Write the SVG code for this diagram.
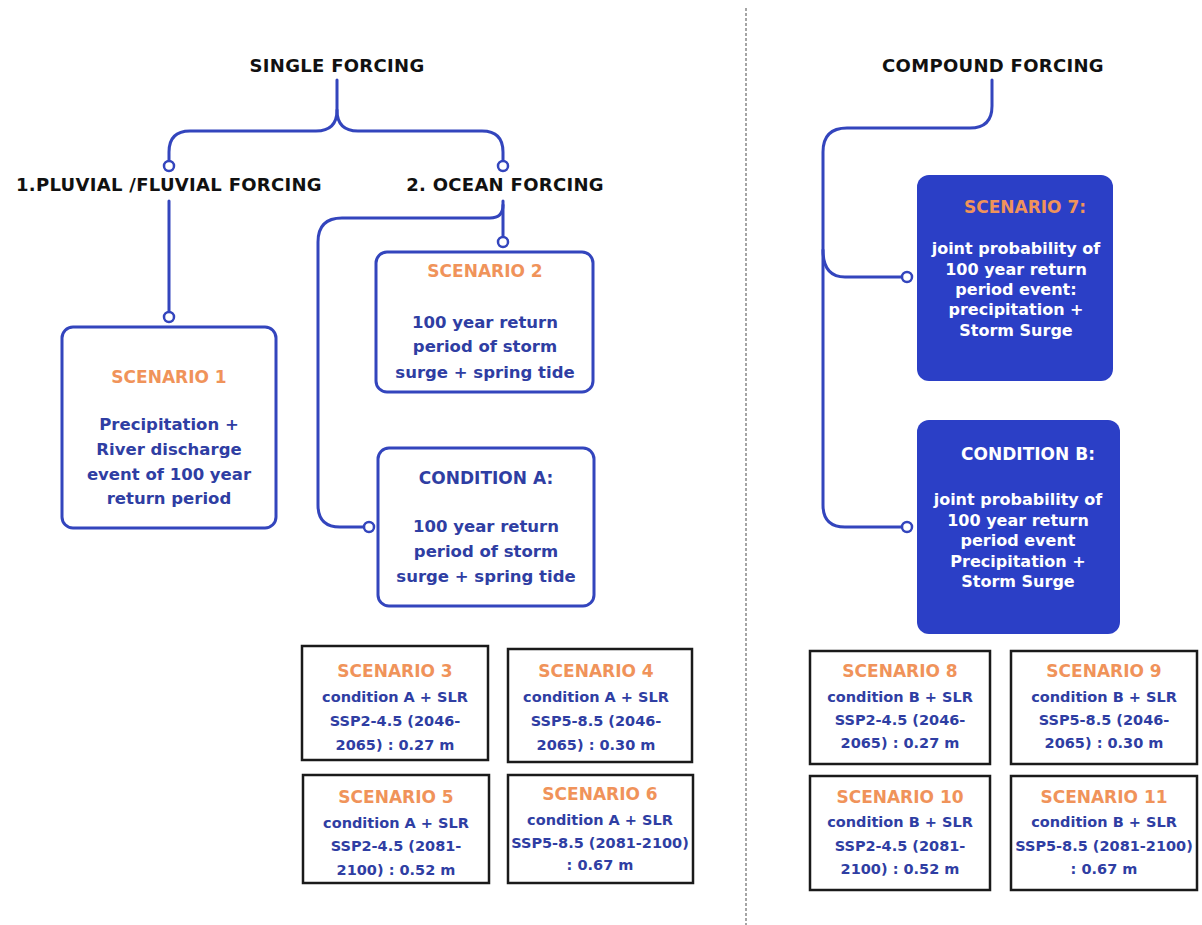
<svg xmlns="http://www.w3.org/2000/svg" width="1202" height="925" viewBox="0 0 1202 925">
<style>
text{font-family:"DejaVu Sans",Inter,sans-serif;font-weight:700;text-anchor:middle}
.hdr{font-size:18px;fill:#111;letter-spacing:0.3px}
.ttl{font-size:17px;fill:#f0935a}
.ttlb{font-size:17px;fill:#2f3ea3}
.ttlw{font-size:17px;fill:#ffffff}
.bd{font-size:16.5px;fill:#2f3ea3}
.bw{font-size:16px;fill:#ffffff}
.sm{font-size:14.5px;fill:#2f3ea3}
.box{fill:#fff;stroke:#3345bd;stroke-width:3}
.fbox{fill:#2b3fc6;stroke:none}
.kbox{fill:#fff;stroke:#1a1a1a;stroke-width:2.5}
.ln{fill:none;stroke:#3345bd;stroke-width:3;stroke-linecap:round;stroke-linejoin:round}
.dot{fill:#fff;stroke:#3345bd;stroke-width:2.5}
</style>
<rect width="1202" height="925" fill="#fff"/>
<line x1="746" y1="8" x2="746" y2="925" stroke="#888" stroke-width="1.5" stroke-dasharray="3 2"/>

<g id="connectors">
  <path class="ln" d="M337 80 V110 Q337 131 316 131 H190 Q169 131 169 152 V161"/>
  <path class="ln" d="M337 110 Q337 131 358 131 H482 Q503 131 503 152 V161"/>
  <path class="ln" d="M169 201 V312"/>
  <path class="ln" d="M503 201 V237"/>
  <path class="ln" d="M503 205 Q503 218 490 218 H342 Q318 218 318 242 V505 Q318 527 340 527 H364"/>
  <path class="ln" d="M992 80 V106 Q992 128 970 128 H847 Q823 128 823 152 V505 Q823 527 845 527 H902"/>
  <path class="ln" d="M823 250 Q823 277 845 277 H902"/>
  <circle class="dot" cx="169" cy="166" r="5"/>
  <circle class="dot" cx="503" cy="166" r="5"/>
  <circle class="dot" cx="169" cy="317" r="5"/>
  <circle class="dot" cx="503" cy="242" r="5"/>
  <circle class="dot" cx="369" cy="527" r="5"/>
  <circle class="dot" cx="907" cy="277" r="5"/>
  <circle class="dot" cx="907" cy="527" r="5"/>
</g>

<g id="single-forcing"><text class="hdr" x="337" y="72">SINGLE FORCING</text></g>
<g id="pluvial"><text class="hdr" x="169" y="191">1.PLUVIAL /FLUVIAL FORCING</text></g>
<g id="ocean"><text class="hdr" x="505" y="191">2. OCEAN FORCING</text></g>
<g id="compound-forcing"><text class="hdr" x="993" y="72">COMPOUND  FORCING</text></g>

<g id="scenario1">
  <rect class="box" x="62" y="327" width="214" height="201" rx="11"/>
  <text class="ttl" x="169" y="383">SCENARIO 1</text>
  <text class="bd" x="169" y="430">Precipitation +</text>
  <text class="bd" x="169" y="455">River discharge</text>
  <text class="bd" x="169" y="480">event of 100 year</text>
  <text class="bd" x="169" y="504">return period</text>
</g>

<g id="scenario2">
  <rect class="box" x="376" y="252" width="217" height="140" rx="11"/>
  <text class="ttl" x="485" y="277">SCENARIO 2</text>
  <text class="bd" x="485" y="328">100 year return</text>
  <text class="bd" x="485" y="352">period of storm</text>
  <text class="bd" x="485" y="378">surge + spring tide</text>
</g>

<g id="conditionA">
  <rect class="box" x="378" y="448" width="216" height="158" rx="11"/>
  <text class="ttlb" x="486" y="484">CONDITION A:</text>
  <text class="bd" x="486" y="532">100 year return</text>
  <text class="bd" x="486" y="557">period of storm</text>
  <text class="bd" x="486" y="582">surge + spring tide</text>
</g>

<g id="scenario3">
  <rect class="kbox" x="302" y="646" width="186" height="114"/>
  <text class="ttl" x="395" y="677">SCENARIO 3</text>
  <text class="sm" x="395" y="702">condition A + SLR</text>
  <text class="sm" x="395" y="726">SSP2-4.5 (2046-</text>
  <text class="sm" x="395" y="750">2065) : 0.27 m</text>
</g>
<g id="scenario4">
  <rect class="kbox" x="508" y="649" width="184" height="113"/>
  <text class="ttl" x="596" y="677">SCENARIO 4</text>
  <text class="sm" x="596" y="702">condition A + SLR</text>
  <text class="sm" x="596" y="726">SSP5-8.5 (2046-</text>
  <text class="sm" x="596" y="750">2065) : 0.30 m</text>
</g>
<g id="scenario5">
  <rect class="kbox" x="303" y="775" width="186" height="108"/>
  <text class="ttl" x="396" y="803">SCENARIO 5</text>
  <text class="sm" x="396" y="828">condition A + SLR</text>
  <text class="sm" x="396" y="851">SSP2-4.5 (2081-</text>
  <text class="sm" x="396" y="875">2100) : 0.52 m</text>
</g>
<g id="scenario6">
  <rect class="kbox" x="508" y="775" width="185" height="108"/>
  <text class="ttl" x="600" y="800">SCENARIO 6</text>
  <text class="sm" x="600" y="825">condition A + SLR</text>
  <text class="sm" x="600" y="848">SSP5-8.5 (2081-2100)</text>
  <text class="sm" x="600" y="870">: 0.67 m</text>
</g>

<g id="scenario7">
  <rect class="fbox" x="917" y="175" width="196" height="206" rx="12"/>
  <text class="ttl" x="1025" y="213">SCENARIO 7:</text>
  <text class="bw" x="1016" y="254">joint probability of</text>
  <text class="bw" x="1016" y="275">100 year return</text>
  <text class="bw" x="1016" y="295">period event:</text>
  <text class="bw" x="1016" y="315">precipitation +</text>
  <text class="bw" x="1016" y="336">Storm Surge</text>
</g>

<g id="conditionB">
  <rect class="fbox" x="917" y="420" width="203" height="214" rx="12"/>
  <text class="ttlw" x="1028" y="460">CONDITION B:</text>
  <text class="bw" x="1018" y="505">joint probability of</text>
  <text class="bw" x="1018" y="526">100 year return</text>
  <text class="bw" x="1018" y="546">period event</text>
  <text class="bw" x="1018" y="567">Precipitation +</text>
  <text class="bw" x="1018" y="587">Storm Surge</text>
</g>

<g id="scenario8">
  <rect class="kbox" x="810" y="651" width="180" height="113"/>
  <text class="ttl" x="900" y="677">SCENARIO 8</text>
  <text class="sm" x="900" y="702">condition B + SLR</text>
  <text class="sm" x="900" y="725">SSP2-4.5 (2046-</text>
  <text class="sm" x="900" y="748">2065) : 0.27 m</text>
</g>
<g id="scenario9">
  <rect class="kbox" x="1011" y="651" width="186" height="113"/>
  <text class="ttl" x="1104" y="677">SCENARIO 9</text>
  <text class="sm" x="1104" y="702">condition B + SLR</text>
  <text class="sm" x="1104" y="725">SSP5-8.5 (2046-</text>
  <text class="sm" x="1104" y="748">2065) : 0.30 m</text>
</g>
<g id="scenario10">
  <rect class="kbox" x="810" y="776" width="180" height="114"/>
  <text class="ttl" x="900" y="803">SCENARIO 10</text>
  <text class="sm" x="900" y="827">condition B + SLR</text>
  <text class="sm" x="900" y="851">SSP2-4.5 (2081-</text>
  <text class="sm" x="900" y="874">2100) : 0.52 m</text>
</g>
<g id="scenario11">
  <rect class="kbox" x="1011" y="776" width="186" height="114"/>
  <text class="ttl" x="1104" y="803">SCENARIO 11</text>
  <text class="sm" x="1104" y="827">condition B + SLR</text>
  <text class="sm" x="1104" y="851">SSP5-8.5 (2081-2100)</text>
  <text class="sm" x="1104" y="874">: 0.67 m</text>
</g>
</svg>
